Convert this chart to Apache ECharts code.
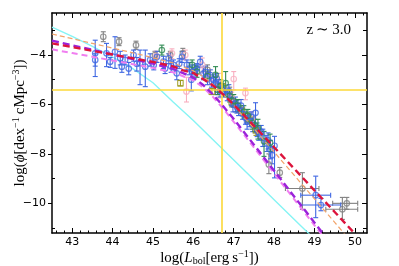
<!DOCTYPE html>
<html><head><meta charset="utf-8">
<script src="https://cdn.jsdelivr.net/npm/echarts@6/dist/echarts.min.js"></script>
<style>html,body{margin:0;padding:0;background:#fff}#c{width:399px;height:266px}</style>
</head><body><div id="c"></div>
<script>
// ---------- tick values ----------
const xMajorTicks = [43, 44, 45, 46, 47, 48, 49, 50];
const yMajorTicks = [-4, -6, -8, -10];
const yMinorTicks = [-3, -5, -7, -9, -11];
const redshiftLabel = 'z\u2009\u223C\u20093.0';
const refLogL = 46.70;     // vertical yellow line
const refLogPhi = -5.41;   // horizontal yellow line

// ---------- model curves ----------
const cyanX = [42.5, 43.0, 43.5, 44.0, 44.5, 45.0, 45.5, 46.0, 46.5, 47.0, 47.5, 48.0, 48.5, 49.0];
const cyanY = [-2.87, -3.25, -3.65, -4.08, -4.55, -5.12, -5.90, -6.65, -7.45, -8.25, -9.05, -9.85, -10.65, -11.45];

const redX = [42.5, 43.0, 43.5, 44.0, 44.5, 45.0, 45.5, 45.75, 46.0, 46.25, 46.5, 46.75, 47.0, 47.25, 47.5, 48.0, 48.5, 49.0, 49.5, 50.0];
const redY = [-3.53, -3.68, -3.83, -3.98, -4.13, -4.28, -4.46, -4.62, -4.73, -4.98, -5.25, -5.61, -6.01, -6.43, -6.86, -7.73, -8.60, -9.48, -10.35, -11.23];

const purpleX = [42.5, 43.0, 43.5, 44.0, 44.5, 45.0, 45.5, 46.0, 46.25, 46.5, 46.75, 47.0, 47.5, 48.0, 48.5, 49.0, 49.5];
const purpleY = [-3.42, -3.61, -3.79, -3.98, -4.16, -4.35, -4.56, -4.91, -5.22, -5.62, -6.09, -6.59, -7.63, -8.68, -9.73, -10.78, -11.83];

const violetX = [42.5, 43.0, 43.5, 44.0, 44.5, 45.0, 45.5, 46.0, 46.25, 46.5, 46.75, 47.0, 47.5, 48.0, 48.5, 49.0, 49.5];
const violetY = [-3.77, -3.92, -4.07, -4.22, -4.37, -4.52, -4.70, -5.02, -5.32, -5.72, -6.19, -6.70, -7.74, -8.79, -9.84, -10.89, -11.94];

const orangeX = [42.5, 43.0, 43.5, 44.0, 44.5, 45.0, 45.5, 46.0, 46.25, 46.5, 46.75, 47.0, 47.5, 48.0, 48.5, 49.0, 49.5, 50.0];
const orangeY = [-3.15, -3.34, -3.53, -3.72, -3.91, -4.11, -4.32, -4.64, -4.88, -5.21, -5.61, -6.04, -6.97, -7.92, -8.87, -9.82, -10.77, -11.72];

// ---------- data points: x, y, yLow, yHigh, xLow, xHigh ----------
const blueX = [43.57, 43.57, 43.85, 43.94, 44.06, 44.19, 44.23, 44.31, 44.52, 44.60, 44.68, 44.81, 44.93, 45.02, 45.10, 45.26, 45.39, 45.45, 45.51, 45.59, 45.72, 45.84, 45.90, 45.95, 45.97, 46.09, 46.17, 46.25, 46.30, 46.42, 46.50, 46.55, 46.62, 46.70, 46.77, 46.84, 46.94, 47.04, 47.12, 47.22, 47.29, 47.39, 47.47, 47.54, 47.62, 47.72, 47.82, 47.91, 48.01, 49.03, 49.16,
  46.05, 46.35, 46.45, 46.58, 46.66, 46.88, 46.98, 47.08, 47.18, 47.33, 47.43, 47.58, 47.68, 47.85, 47.95, 44.40, 45.30, 45.65];
const blueY = [-3.93, -4.20, -3.93, -4.27, -3.87, -4.13, -4.47, -4.20, -4.00, -4.35, -4.33, -4.47, -4.20, -4.40, -4.07, -4.27, -4.13, -4.45, -4.40, -4.74, -4.07, -4.40, -4.55, -5.00, -4.67, -4.54, -4.28, -4.75, -4.68, -4.81, -5.00, -5.15, -5.21, -5.35, -5.49, -5.61, -5.81, -5.97, -6.21, -6.38, -6.54, -6.66, -6.82, -6.34, -7.14, -7.34, -7.58, -7.83, -7.67, -9.67, -10.07,
  -4.62, -4.95, -5.05, -4.95, -5.45, -5.45, -6.00, -6.10, -6.05, -6.70, -6.50, -7.00, -7.10, -7.45, -8.05, -4.55, -4.55, -4.35];
const blueYLo = [-4.87, -4.45, -4.47, -4.50, -4.54, -4.40, -4.70, -4.40, -4.25, -4.65, -5.20, -5.28, -4.45, -4.60, -4.30, -4.55, -4.35, -4.70, -4.60, -5.00, -4.30, -4.60, -4.80, -5.45, -4.95, -4.75, -4.50, -5.00, -4.90, -5.05, -5.20, -5.60, -5.40, -5.55, -5.70, -5.85, -6.05, -6.30, -6.45, -6.60, -6.80, -6.90, -7.10, -7.14, -7.45, -7.70, -7.90, -8.20, -8.97, -10.58, -10.30,
  -4.85, -5.20, -5.30, -5.15, -5.70, -5.70, -6.30, -6.35, -6.30, -7.00, -6.75, -7.30, -7.40, -7.80, -8.40, -4.80, -4.75, -4.55];
const blueYHi = [-3.40, -3.95, -3.53, -4.10, -3.26, -3.85, -4.28, -4.00, -3.80, -4.10, -3.80, -3.80, -3.95, -4.20, -3.85, -4.05, -3.95, -4.25, -4.20, -4.45, -3.85, -4.20, -4.30, -4.60, -4.40, -4.35, -4.05, -4.50, -4.45, -4.60, -4.80, -4.90, -5.00, -5.15, -5.30, -5.40, -5.60, -5.70, -5.95, -6.15, -6.30, -6.40, -6.55, -5.93, -6.85, -7.00, -7.25, -7.45, -7.29, -8.90, -9.80,
  -4.40, -4.70, -4.85, -4.75, -5.25, -5.20, -5.75, -5.85, -5.80, -6.45, -6.30, -6.75, -6.85, -7.15, -7.70, -4.30, -4.35, -4.15];
const blueXLo = {49: 48.66, 50: 48.66};
const blueXHi = {49: 49.40, 50: 49.65};

const grayX = [43.77, 44.16, 44.58, 45.05, 45.43, 45.74, 46.35, 46.90, 47.87, 48.14, 48.70, 49.69, 49.80];
const grayY = [-3.26, -3.46, -3.60, -4.00, -4.00, -3.93, -4.60, -5.53, -8.43, -8.76, -9.40, -10.24, -10.00];
const grayYLo = [-3.46, -3.62, -3.77, -4.15, -4.15, -4.13, -4.80, -5.75, -8.80, -8.95, -10.24, -10.65, -10.24];
const grayYHi = [-3.06, -3.30, -3.44, -3.85, -3.85, -3.73, -4.40, -5.30, -8.00, -8.55, -8.76, -9.76, -9.76];
const grayXLo = {10: 48.28, 11: 49.28, 12: 49.45};
const grayXHi = {10: 49.11, 11: 50.07, 12: 50.07};

const pinkX = [45.08, 45.47, 45.80, 45.83, 46.22, 46.40, 46.63, 46.95, 47.00, 47.29, 47.45];
const pinkY = [-4.04, -3.93, -4.00, -5.48, -4.40, -4.95, -5.14, -5.75, -4.97, -5.54, -6.60];
const pinkYLo = [-4.25, -4.15, -4.20, -5.90, -4.72, -5.20, -5.74, -6.00, -5.41, -5.81, -6.90];
const pinkYHi = [-3.85, -3.75, -3.80, -4.90, -4.12, -4.70, -4.74, -5.50, -4.67, -5.34, -6.30];

const greenX = [45.22, 45.97, 46.09, 46.55, 46.60, 46.80, 46.90, 47.10, 47.35, 47.46, 47.60, 47.75, 46.35, 46.68, 47.00, 47.25, 47.52, 47.90];
const greenY = [-3.80, -4.40, -4.67, -4.80, -5.40, -5.14, -5.65, -6.05, -6.45, -6.75, -6.95, -7.49, -4.85, -5.25, -5.85, -6.30, -6.85, -7.55];
const greenYLo = [-4.00, -4.60, -4.90, -5.28, -5.60, -5.68, -5.90, -6.30, -6.70, -7.00, -7.40, -8.10, -5.05, -5.50, -6.10, -6.55, -7.10, -7.90];
const greenYHi = [-3.60, -4.20, -4.45, -4.47, -5.20, -4.67, -5.40, -5.80, -6.20, -6.50, -6.60, -7.09, -4.65, -5.00, -5.60, -6.05, -6.60, -7.20];

const oliveX = [45.68, 46.46, 46.72, 47.20, 47.55, 46.95, 47.35];
const oliveY = [-5.14, -5.48, -5.30, -6.25, -7.05, -5.90, -6.55];
const oliveYLo = [-5.25, -5.60, -5.45, -6.45, -7.25, -6.10, -6.75];
const oliveYHi = [-5.03, -5.35, -5.15, -6.05, -6.85, -5.70, -6.35];

// ---------- build ----------
const xMinorTicks = [];
for (let i = 426; i <= 502; i += 2) { if (i % 10 !== 0) xMinorTicks.push(i / 10); }

function rows(X, Y, lo, hi, xlo, xhi) {
  return X.map((x, i) => [x, Y[i], lo[i], hi[i],
    xlo && xlo[i] !== undefined ? xlo[i] : x,
    xhi && xhi[i] !== undefined ? xhi[i] : x]);
}
function pairs(X, Y) { return X.map((x, i) => [x, Y[i]]); }

function errSeries(data, color, symbol) {
  return [{
    type: 'custom', clip: true, z: 3, silent: true,
    renderItem: function (params, api) {
      const x = api.value(0), ylo = api.value(2), yhi = api.value(3), xlo = api.value(4), xhi = api.value(5), y = api.value(1);
      const c = api.coord([x, y]);
      const a = api.coord([x, ylo]), b = api.coord([x, yhi]);
      const st = {stroke: color, lineWidth: 1.1};
      const ch = [
        {type: 'line', shape: {x1: c[0], y1: a[1], x2: c[0], y2: b[1]}, style: st},
        {type: 'line', shape: {x1: c[0] - 2.5, y1: a[1], x2: c[0] + 2.5, y2: a[1]}, style: st},
        {type: 'line', shape: {x1: c[0] - 2.5, y1: b[1], x2: c[0] + 2.5, y2: b[1]}, style: st}
      ];
      if (xhi > xlo) {
        const l = api.coord([xlo, y]), r = api.coord([xhi, y]);
        ch.push({type: 'line', shape: {x1: l[0], y1: c[1], x2: r[0], y2: c[1]}, style: st});
        ch.push({type: 'line', shape: {x1: l[0], y1: c[1] - 2.5, x2: l[0], y2: c[1] + 2.5}, style: st});
        ch.push({type: 'line', shape: {x1: r[0], y1: c[1] - 2.5, x2: r[0], y2: c[1] + 2.5}, style: st});
      }
      return {type: 'group', children: ch};
    },
    data: data
  }, {
    type: 'scatter', z: 4, silent: true, symbol: symbol || 'circle', symbolSize: 5.5,
    itemStyle: {color: 'rgba(0,0,0,0)', borderColor: color, borderWidth: 1.2},
    data: data.map(d => [d[0], d[1]])
  }];
}

function lineSeries(X, Y, color, width, dash, z) {
  return {type: 'line', data: pairs(X, Y), showSymbol: false, symbol: 'none', smooth: false, silent: true, z: z || 5,
    clip: true, lineStyle: {color: color, width: width, type: dash}};
}

const serif = 'Liberation Serif';
const minus = v => (v < 0 ? '\u2212' + (-v) : '' + v);

const xAx = (pos, ticks, len, major) => ({
  type: 'value', min: 42.5, max: 50.3, position: pos, gridIndex: 0,
  axisLine: {show: major, onZero: false, lineStyle: {color: '#000', width: 1.5}},
  axisTick: {show: true, inside: true, length: len, customValues: ticks, lineStyle: {color: '#000', width: 1}},
  axisLabel: {show: false}, splitLine: {show: false}
});
const yAx = (pos, ticks, len, inside, major) => ({
  type: 'value', min: -11.2, max: -2.3, position: pos, gridIndex: 0,
  axisLine: {show: major, onZero: false, lineStyle: {color: '#000', width: 1.5}},
  axisTick: {show: true, inside: inside, length: len, customValues: ticks, lineStyle: {color: '#000', width: 1}},
  axisLabel: {show: false}, splitLine: {show: false}
});

const xMain = xAx('bottom', xMajorTicks, 5, true);
xMain.axisLabel = {show: true, customValues: xMajorTicks, fontFamily: 'DejaVu Sans', fontSize: 11, color: '#000', margin: 4};
xMain.name = '{a|log(}{i|L}{s|bol}{a|[erg\u2009s}{p|\u22121}{a|])}';
xMain.nameLocation = 'middle';
xMain.nameGap = 16;
xMain.nameMoveOverlap = false;
xMain.nameTextStyle = {
  verticalAlign: 'top',
  rich: {
    a: {fontFamily: serif, fontSize: 15, color: '#000'},
    i: {fontFamily: serif, fontSize: 15, fontStyle: 'italic', color: '#000'},
    s: {fontFamily: serif, fontSize: 10, color: '#000', padding: [7, 0, 0, 0]},
    p: {fontFamily: serif, fontSize: 10, color: '#000', padding: [0, 0, 8, 0]}
  }
};

const yMain = yAx('left', yMajorTicks, 4, false, true);
yMain.axisLabel = {show: true, customValues: yMajorTicks, fontFamily: 'DejaVu Sans', fontSize: 11, color: '#000', margin: 6, formatter: minus};
yMain.name = '{a|log(}{i|\u03D5}{a|[dex}{p|\u22121}{a|\u2009cMpc}{p|\u22123}{a|])}';
yMain.nameLocation = 'middle';
yMain.nameGap = 23;
yMain.nameRotate = 90;
yMain.nameMoveOverlap = false;
yMain.nameTextStyle = {
  verticalAlign: 'bottom',
  rich: {
    a: {fontFamily: serif, fontSize: 15, color: '#000'},
    i: {fontFamily: serif, fontSize: 15, fontStyle: 'italic', color: '#000'},
    p: {fontFamily: serif, fontSize: 10, color: '#000', padding: [0, 0, 8, 0]}
  }
};

const option = {
  animation: false,
  backgroundColor: '#fff',
  grid: {left: 52, right: 32, top: 13, bottom: 33, containLabel: false, outerBoundsMode: 'none'},
  xAxis: [
    xMain,
    xAx('bottom', xMinorTicks, 2.5, false),
    xAx('top', xMajorTicks, 5, true),
    xAx('top', xMinorTicks, 2.5, false)
  ],
  yAxis: [
    yMain,
    yAx('left', yMinorTicks, 3, true, false),
    yAx('right', yMajorTicks, 5, true, true),
    yAx('right', yMinorTicks, 4, true, false)
  ],
  graphic: [{
    type: 'text', right: 48, top: 23,
    style: {text: redshiftLabel, fontFamily: serif, fontSize: 15, fill: '#000'}
  }],
  series: [
    {type: 'line', silent: true, z: 2, data: [], markLine: {
      silent: true, symbol: 'none', label: {show: false},
      lineStyle: {color: '#fcd838', width: 1.6, type: 'solid'},
      data: [{xAxis: refLogL}, {yAxis: refLogPhi}]
    }},
    lineSeries(cyanX, cyanY, '#86f4f4', 1.4, 'solid', 2),
    ...errSeries(rows(grayX, grayY, grayYLo, grayYHi, grayXLo, grayXHi), '#808080'),
    ...errSeries(rows(pinkX, pinkY, pinkYLo, pinkYHi), '#f8aebf'),
    ...errSeries(rows(oliveX, oliveY, oliveYLo, oliveYHi), '#9c9a1e', 'rect'),
    ...errSeries(rows(blueX, blueY, blueYLo, blueYHi, blueXLo, blueXHi), '#3f67e2'),
    ...errSeries(rows(greenX, greenY, greenYLo, greenYHi), '#2f8a52'),
    lineSeries(orangeX, orangeY, '#f2a46a', 1.2, [5, 3], 6),
    lineSeries(violetX, violetY, '#f07ef0', 2, [6, 4], 6),
    lineSeries(purpleX, purpleY, '#9b22d9', 2.4, [7, 4], 7),
    lineSeries(redX, redY, '#dc143c', 2.4, [7, 4], 8)
  ]
};

const chart = echarts.init(document.getElementById('c'), null, {renderer: 'canvas'});
chart.setOption(option);
</script>
</body></html>
